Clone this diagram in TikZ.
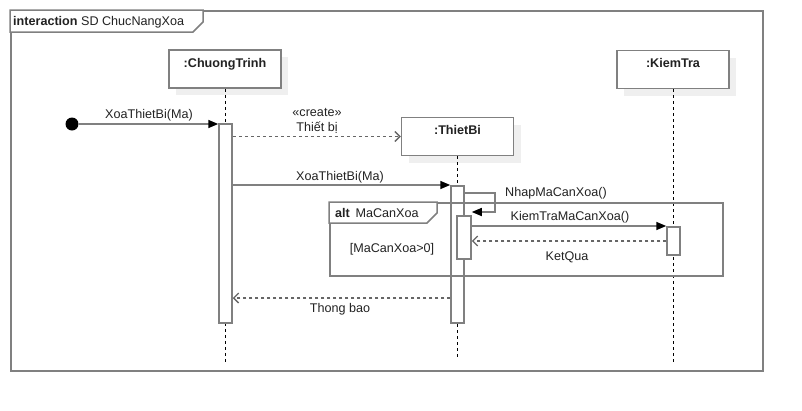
\documentclass[tikz,border=0pt]{standalone}
\usepackage{fontspec}
\setmainfont{Liberation Sans}
\usetikzlibrary{arrows.meta,shadows}

\definecolor{linegray}{HTML}{808080}
\definecolor{dashgray}{HTML}{666666}
\definecolor{shadowgray}{HTML}{EFEFEF}
\definecolor{txt}{HTML}{222222}

\tikzset{
  lbl/.style={font=\fontsize{12.6}{15}\selectfont, inner sep=0pt, text=txt},
  head/.style={draw=linegray, line width=1.5pt, fill=white, minimum width=112pt, minimum height=38pt,
    text height=9pt, text depth=13pt, font=\bfseries\fontsize{12.6}{15}\selectfont, text=txt,
    drop shadow={shadow xshift=7pt, shadow yshift=-7pt, fill=shadowgray, opacity=1}},
  act/.style={draw=linegray, line width=1.5pt, fill=white, minimum width=13pt, inner sep=0pt, anchor=north},
  frm/.style={draw=linegray, line width=1.5pt, inner sep=0pt, anchor=north west},
  lifeline/.style={black, line width=0.9pt, dash pattern=on 3pt off 3pt},
  msg/.style={draw=linegray, line width=1.5pt, -{Triangle[length=10pt, width=8pt, color=black]}},
  ret/.style={draw=dashgray, line width=1.3pt, dash pattern=on 3pt off 3pt, -{Straight Barb[length=5pt, width=10pt]}}
}

\begin{document}
\begin{tikzpicture}[x=1pt, y=-1pt]
    \useasboundingbox (0,0) rectangle (802,410);

    % Outer frame
    \node[frm, minimum width=752pt, minimum height=360pt] (sd) at (10,10) {};
    \draw[draw=linegray, line width=1.5pt, fill=white] (sd.north west) -- ++(193,0) -- ++(0,12) -- ++(-10,10) -- ++(-183,0) -- cycle;
    \node[lbl, anchor=base west] (sdname) at (13,25) {\textbf{interaction} SD ChucNangXoa};

    % Lifeline heads
    \node[head] (chuong) at (225,69) {:ChuongTrinh};
    \node[head] (thietbi) at (457.5,136.5) {:ThietBi};
    \node[head] (kiemtra) at (673,69.5) {:KiemTra};

    % Lifelines
    \coordinate (chuongEnd) at (225,362);
    \coordinate (thietbiEnd) at (457.5,360);
    \coordinate (kiemtraEnd) at (673,362);
    \draw[lifeline] (chuong.south) -- (chuongEnd);
    \draw[lifeline] (thietbi.south) -- (thietbiEnd);
    \draw[lifeline] (kiemtra.south) -- (kiemtraEnd);

    % Activations
    \node[act, minimum height=199pt] (actC) at (225.5,123) {};
    \node[act, minimum height=137pt] (actT) at (457.5,185) {};
    \node[act, minimum width=14pt, minimum height=43pt] (actN) at (464,215) {};
    \node[act, minimum height=28pt] (actK) at (673.5,226) {};

    % Alt fragment
    \node[frm, minimum width=393pt, minimum height=73pt] (alt) at (329,202) {};
    \draw[draw=linegray, line width=1.5pt, fill=white] (alt.north west) -- ++(108,0) -- ++(0,11) -- ++(-10,10) -- ++(-98,0) -- cycle;
    \node[lbl, anchor=base west] (altname) at (335,217) {\textbf{alt}\, MaCanXoa};
    \node[lbl, anchor=base] (guard) at (392,252) {[MaCanXoa>0]};

    % Messages
    \node[circle, fill=black, minimum size=13pt, inner sep=0pt] (start) at (72,124) {};
    \draw[msg] (start) -- (actC.west |- start);
    \node[lbl, anchor=base] (m1) at (149,118) {XoaThietBi(Ma)};

    \draw[ret] (actC.east |- thietbi.west) -- (thietbi.west);
    \node[lbl, anchor=base] (m2a) at (317,116) {«create»};
    \node[lbl, anchor=base] (m2b) at (317,131) {Thiết bị};

    \draw[msg] (actC.east |- actT.north west) -- (actT.north west);
    \node[lbl, anchor=base] (m3) at (340,180) {XoaThietBi(Ma)};

    \draw[msg] (actT.east |- 0,193) -| ++(30,19) -- (actN.east |- 0,212);
    \node[lbl, anchor=base west] (m4) at (505,196) {NhapMaCanXoa()};

    \draw[msg] (actN.east |- actK.north west) -- (actK.north west);
    \node[lbl, anchor=base] (m5) at (570,220) {KiemTraMaCanXoa()};

    \draw[ret] (actK.west |- 0,241) -- (actN.east |- 0,241);
    \node[lbl, anchor=base] (m6) at (567,260) {KetQua};

    \draw[ret] (actT.west |- 0,298) -- (actC.east |- 0,298);
    \node[lbl, anchor=base] (m7) at (340,312) {Thong bao};
\end{tikzpicture}
\end{document}
